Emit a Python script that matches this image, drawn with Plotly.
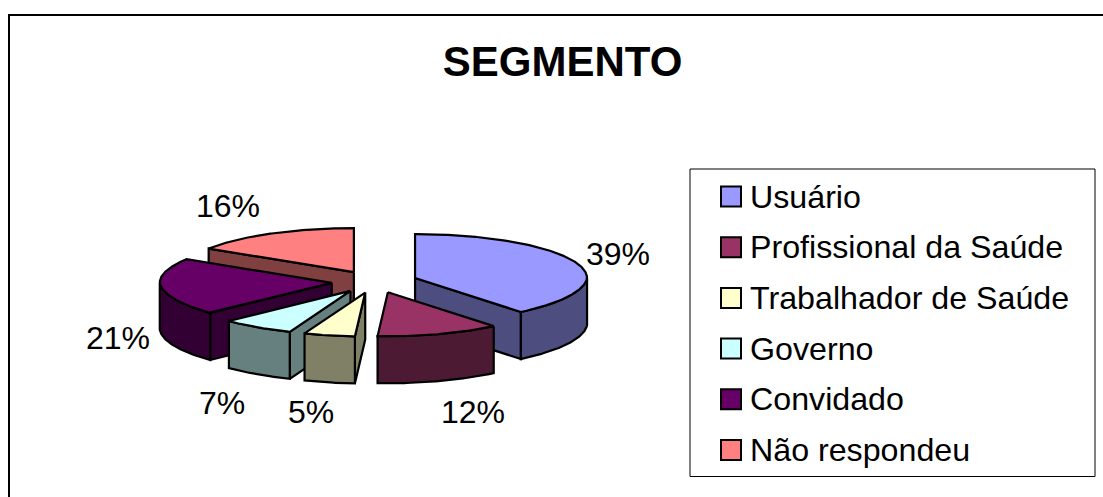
import math
import plotly.graph_objects as go

categories = ["Usuário", "Profissional da Saúde", "Trabalhador de Saúde", "Governo", "Convidado", "Não respondeu"]
values = [39, 12, 5, 7, 21, 16]
top_colors = ["#9999FF", "#993366", "#FFFFCC", "#CCFFFF", "#660066", "#FF8080"]
side_colors = ["#4D4D80", "#4D1A33", "#808066", "#668080", "#330033", "#804040"]
label_pos = [(618, 254), (473, 412), (311, 412), (222, 403), (118, 338), (228, 206)]
W, H = 1103, 497
CX, CY, A, B, DEPTH, EXPLODE = 374.6, 281.8, 172, 44, 47, 0.25
FRONT_SQUEEZE = 0.045
LW = 2.2
FONT = "Liberation Sans, Arial, sans-serif"

fig = go.Figure()

def P(ax, ay, t, dz=0):
    r = math.radians(t)
    f = 1 - FRONT_SQUEEZE * max(0.0, -math.cos(r))
    return ax + A * f * math.sin(r), ay - B * math.cos(r) + dz

def arc(ax, ay, t0, t1, dz=0):
    n = max(2, int(abs(t1 - t0) * 2))
    return [P(ax, ay, t0 + (t1 - t0) * i / n, dz) for i in range(n + 1)]

def poly(pts, color, name):
    fig.add_trace(go.Scatter(x=[p[0] for p in pts] + [pts[0][0]], y=[p[1] for p in pts] + [pts[0][1]],
                             mode="lines", fill="toself", fillcolor=color, name=name,
                             line=dict(color="black", width=LW), hoverinfo="name", showlegend=False))

total = sum(values)
wedges = []
t = 0.0
for i, v in enumerate(values):
    t1 = t + 360.0 * v / total
    m = math.radians((t + t1) / 2)
    ax = CX + EXPLODE * A * math.sin(m)
    ay = CY - EXPLODE * B * math.cos(m)
    wedges.append((i, t, t1, ax, ay))
    t = t1

for i, t0, t1, ax, ay in [wedges[k] for k in (5, 4, 3, 2, 0, 1)]:
    name, side, top = categories[i], side_colors[i], top_colors[i]
    for th, nrm in ((t0, t0 - 90), (t1, t1 + 90)):
        if math.cos(math.radians(nrm)) < 0:
            x, y = P(ax, ay, th)
            poly([(ax, ay), (x, y), (x, y + DEPTH), (ax, ay + DEPTH)], side, name)
    lo, hi = max(t0, 90), min(t1, 270)
    if lo < hi:
        poly(arc(ax, ay, lo, hi) + arc(ax, ay, hi, lo, DEPTH), side, name)
    poly([(ax, ay)] + arc(ax, ay, t0, t1), top, name)

# frame and legend box
LX0, LX1, LY0, LY1 = 690, 1095, 169, 476.5
ROW0, ROWH = 196.5, 50.7
fig.add_shape(type="rect", x0=9, x1=1120, y0=15, y1=520, line=dict(color="black", width=2), fillcolor="white", layer="below")
fig.add_shape(type="rect", x0=LX0, x1=LX1, y0=LY0, y1=LY1, line=dict(color="black", width=1), fillcolor="white", layer="below")
for i, name in enumerate(categories):
    yy = ROW0 + ROWH * i
    fig.add_trace(go.Scatter(x=[731], y=[yy], mode="markers", name=name, showlegend=False, hoverinfo="name",
                             marker=dict(symbol="square", size=20, color=top_colors[i], line=dict(color="black", width=2))))
    fig.add_annotation(x=747.5, y=yy, text=name, showarrow=False, xanchor="left", yanchor="middle",
                       font=dict(family=FONT, size=32.2, color="black"))

for v, (lx, ly) in zip(values, label_pos):
    fig.add_annotation(x=lx, y=ly, text=f"{v}%", showarrow=False, xanchor="center", yanchor="middle",
                       font=dict(family=FONT, size=32, color="black"))

fig.update_layout(
    width=W, height=H, margin=dict(l=0, r=0, t=0, b=0), paper_bgcolor="white", plot_bgcolor="white",
    showlegend=False,
    title=dict(text="<b>SEGMENTO</b>", x=562.5 / W, xanchor="center", y=1 - 61 / H, yanchor="middle",
               font=dict(family=FONT, size=42, color="black")),
    xaxis=dict(range=[0, W], visible=False, fixedrange=True),
    yaxis=dict(range=[H, 0], visible=False, fixedrange=True),
)
fig.write_html("out.html", config={"displayModeBar": False},
               post_script="document.body.style.margin='0';document.body.style.overflow='hidden';")
